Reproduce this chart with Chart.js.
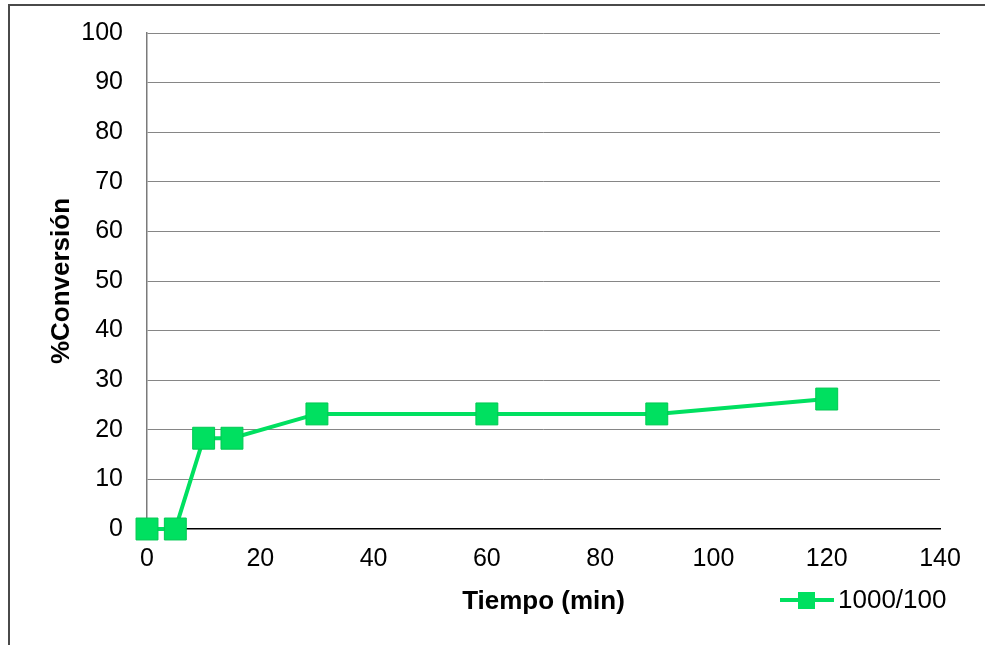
<!DOCTYPE html>
<html>
<head>
<meta charset="utf-8">
<title>%Conversión vs Tiempo</title>
<script src="https://cdn.jsdelivr.net/npm/chart.js@4.4.0/dist/chart.umd.min.js"></script>
<style>
    html, body { margin: 0; padding: 0; background: #fff; }
    #wrap { width: 985px; height: 645px; position: relative; }
</style>
</head>
<body>
<div id="wrap"><canvas id="chartMain" width="985" height="645"></canvas></div>
<script>
// ========== DATA ==========
const tiempo = [0, 5, 10, 15, 30, 60, 90, 120];
const conversion = [0, 0, 18.3, 18.3, 23.2, 23.2, 23.2, 26.2];
const xTicks = [0, 20, 40, 60, 80, 100, 120, 140];
const yTicks = [0, 10, 20, 30, 40, 50, 60, 70, 80, 90, 100];
const serieLabel = '1000/100';

const FONT = '"Liberation Sans", Arial, sans-serif';
const VERDE = '#00e060';
const VERDE_BORDE = '#00c852';

// ========== PLUGINS ==========
// white page + outer frame (left and top edges only are visible)
const framePlugin = {
    id: 'frame',
    beforeDraw(chart) {
        const ctx = chart.ctx;
        ctx.save();
        ctx.fillStyle = '#fff';
        ctx.fillRect(0, 0, chart.width, chart.height);
        ctx.strokeStyle = '#4a4a4a';
        ctx.lineWidth = 2;
        ctx.beginPath();
        ctx.moveTo(9, chart.height);
        ctx.lineTo(9, 5);
        ctx.lineTo(chart.width, 5);
        ctx.stroke();
        ctx.restore();
    }
};

// legend drawn on the same row as the x title
const legendPlugin = {
    id: 'sideLegend',
    afterDraw(chart) {
        const ds = chart.data.datasets[0];
        const ctx = chart.ctx;
        const y = 600;
        ctx.save();
        ctx.strokeStyle = ds.borderColor;
        ctx.lineWidth = ds.borderWidth;
        ctx.beginPath();
        ctx.moveTo(780, y);
        ctx.lineTo(834, y);
        ctx.stroke();
        ctx.fillStyle = ds.pointBackgroundColor;
        ctx.fillRect(798, y - 8, 17, 17);
        ctx.fillStyle = '#000';
        ctx.font = '26px ' + FONT;
        ctx.textBaseline = 'middle';
        ctx.textAlign = 'left';
        ctx.fillText(ds.label, 838, y + 1);
        ctx.restore();
    }
};

// ========== CHART ==========
const ctx = document.getElementById('chartMain').getContext('2d');
new Chart(ctx, {
    type: 'line',
    data: {
        datasets: [{
            label: serieLabel,
            data: tiempo.map((t, i) => ({ x: t, y: conversion[i] })),
            borderColor: VERDE,
            backgroundColor: VERDE,
            borderWidth: 4,
            pointStyle: 'rect',
            pointRadius: 15.5,
            pointHoverRadius: 15.5,
            pointBackgroundColor: VERDE,
            pointBorderColor: VERDE_BORDE,
            pointBorderWidth: 1,
            tension: 0,
            clip: false
        }]
    },
    options: {
        responsive: false,
        animation: false,
        maintainAspectRatio: false,
        layout: {
            padding: { left: 0, top: 33, right: 45, bottom: 0 }
        },
        plugins: {
            legend: { display: false },
            tooltip: { enabled: false }
        },
        scales: {
            x: {
                type: 'linear',
                min: 0,
                max: 140,
                afterBuildTicks(scale) {
                    scale.ticks = xTicks.map(v => ({ value: v }));
                },
                afterFit(scale) { scale.height = 645 - 529; },
                grid: { display: false, drawTicks: false },
                border: { display: true, color: '#000', width: 1.5 },
                ticks: {
                    color: '#000',
                    padding: 15,
                    font: { family: FONT, size: 25 }
                },
                title: {
                    display: true,
                    text: 'Tiempo (min)',
                    color: '#000',
                    padding: { top: 28, bottom: 28 },
                    font: { family: FONT, size: 26, weight: 'bold' }
                }
            },
            y: {
                type: 'linear',
                min: 0,
                max: 100,
                afterBuildTicks(scale) {
                    scale.ticks = yTicks.map(v => ({ value: v }));
                },
                afterFit(scale) {
                    scale.width = 147;
                    scale.paddingTop = 0;
                    scale.paddingBottom = 0;
                },
                grid: {
                    drawTicks: false,
                    color: c => (c.tick && c.tick.value === 0) ? 'rgba(0,0,0,0)' : '#868686',
                    lineWidth: 1
                },
                border: { display: true, color: '#7a7a7a', width: 1.5 },
                ticks: {
                    color: '#000',
                    padding: 24,
                    font: { family: FONT, size: 25 }
                },
                title: {
                    display: true,
                    text: '%Conversión',
                    color: '#000',
                    padding: { top: 46, bottom: 0 },
                    font: { family: FONT, size: 26, weight: 'bold' }
                }
            }
        }
    },
    plugins: [framePlugin, legendPlugin]
});
</script>
</body>
</html>
